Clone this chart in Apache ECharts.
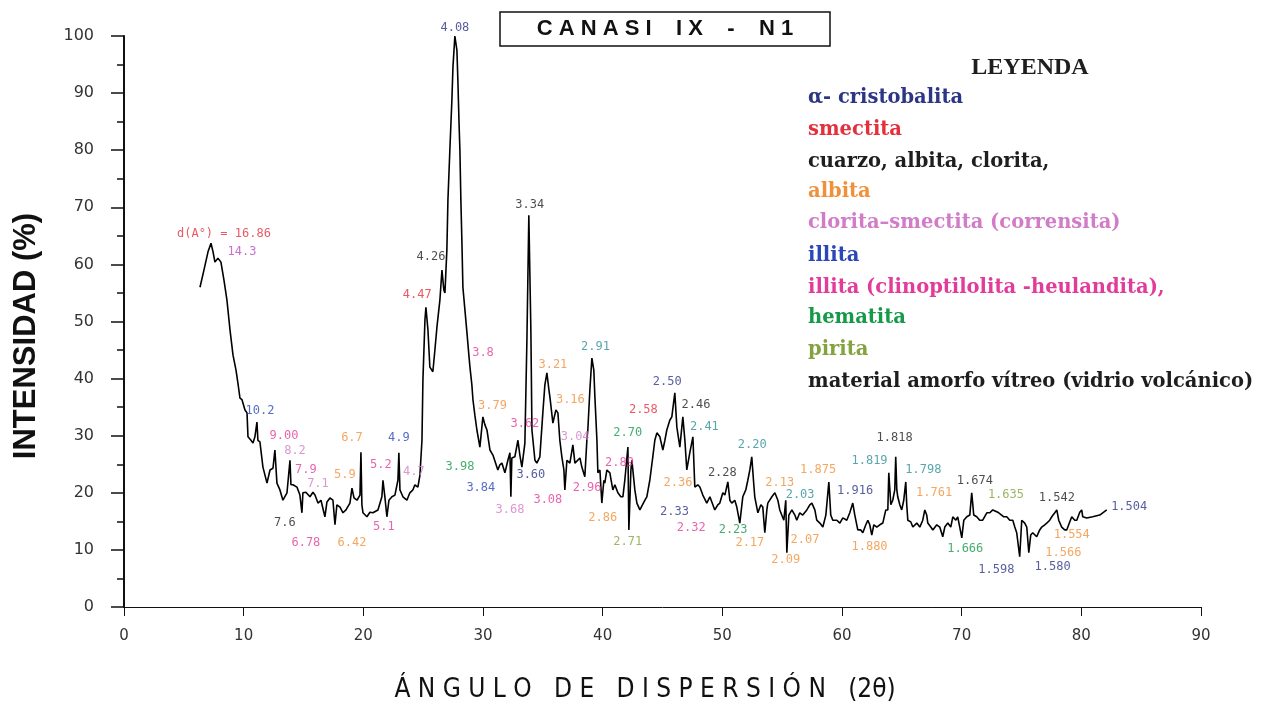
<!DOCTYPE html>
<html><head><meta charset="utf-8">
<script src="https://cdn.jsdelivr.net/npm/echarts@6/dist/echarts.min.js"></script>
<style>html,body{margin:0;padding:0;background:#fff}#c{width:1273px;height:708px}</style>
</head><body><div id="c"></div>
<script>
// ---- DATA ----
const chartTitle = 'C A N A S I\u00a0\u00a0\u00a0 I X\u00a0\u00a0\u00a0 -\u00a0\u00a0\u00a0 N 1';
const xAxisName = 'Á N G U L O   D E   D I S P E R S I Ó N   (2θ)';
const yAxisName = 'INTENSIDAD (%)';
const xTicks = [0, 10, 20, 30, 40, 50, 60, 70, 80, 90];
const yTicks = [0, 10, 20, 30, 40, 50, 60, 70, 80, 90, 100];

// diffractogram trace: [2θ, intensity %]
const trace = [
[6.35,56.0],[6.68,59.0],[7.02,62.2],[7.27,63.7],[7.44,62.2],[7.60,60.4],[7.85,61.1],[8.10,60.4],[8.35,57.3],[8.60,53.8],
[8.86,48.5],[9.11,44.1],[9.36,41.5],[9.52,39.2],[9.69,36.6],[9.86,36.3],[10.11,34.5],[10.28,34.0],[10.36,29.8],[10.61,29.2],
[10.78,28.7],[10.94,29.8],[11.11,32.4],[11.19,29.2],[11.36,28.9],[11.61,24.5],[11.78,23.1],[11.95,21.7],[12.20,24.0],[12.45,24.3],
[12.61,27.5],[12.78,21.7],[13.03,20.5],[13.28,18.7],[13.62,20.0],[13.87,25.7],[13.95,21.4],[14.12,21.4],[14.45,21.0],[14.70,19.6],
[14.87,16.5],[14.95,20.0],[15.20,20.1],[15.54,19.3],[15.79,20.1],[15.96,19.6],[16.21,18.2],[16.46,18.7],[16.79,15.8],[16.96,18.4],
[17.21,19.1],[17.46,18.7],[17.63,14.4],[17.79,17.9],[18.05,17.5],[18.30,16.5],[18.55,17.0],[18.88,18.2],[19.05,20.8],[19.22,19.1],
[19.47,18.7],[19.72,19.6],[19.80,27.1],[19.88,17.9],[19.97,16.5],[20.30,15.8],[20.55,16.6],[20.80,16.5],[21.22,17.0],[21.55,19.3],
[21.64,22.2],[21.80,19.3],[21.97,15.8],[22.14,18.7],[22.39,19.3],[22.64,19.6],[22.89,22.2],[22.97,27.0],[23.06,20.5],[23.31,19.3],
[23.64,18.7],[23.89,20.0],[24.14,20.5],[24.31,21.4],[24.56,21.0],[24.73,23.1],[24.90,29.2],[24.98,39.8],[25.15,50.3],[25.23,52.5],
[25.40,48.5],[25.56,42.0],[25.81,41.2],[25.98,45.0],[26.15,49.0],[26.40,53.8],[26.57,59.0],[26.73,55.5],[26.82,55.0],[26.98,62.5],
[27.07,71.3],[27.23,80.0],[27.40,88.8],[27.49,94.6],[27.65,100.0],[27.82,97.5],[27.90,92.3],[27.99,85.3],[28.07,80.0],[28.15,71.3],
[28.24,63.7],[28.32,56.0],[28.49,52.0],[28.66,48.0],[28.82,44.1],[28.91,42.0],[29.07,38.9],[29.16,36.3],[29.32,33.6],[29.49,31.0],
[29.74,28.0],[29.99,33.3],[30.16,31.9],[30.33,31.0],[30.58,27.5],[30.83,26.6],[30.99,26.3],[31.24,24.0],[31.41,24.9],[31.58,25.2],
[31.83,23.5],[32.08,25.7],[32.25,27.0],[32.33,19.3],[32.41,26.1],[32.66,26.3],[32.92,29.2],[33.08,26.6],[33.25,24.5],[33.50,28.7],
[33.67,46.8],[33.83,68.6],[34.00,48.5],[34.09,31.0],[34.34,25.7],[34.50,25.2],[34.75,26.3],[35.00,34.0],[35.17,38.9],[35.34,41.0],
[35.51,38.0],[35.59,36.8],[35.84,32.2],[36.09,34.5],[36.26,34.0],[36.42,29.2],[36.59,26.3],[36.76,24.0],[36.84,20.5],[37.01,25.7],
[37.26,25.2],[37.51,28.4],[37.68,25.2],[37.84,25.2],[38.10,26.1],[38.26,24.5],[38.51,22.8],[38.68,29.2],[38.76,31.0],[38.93,38.0],
[39.10,43.6],[39.26,41.5],[39.35,36.8],[39.52,29.2],[39.60,23.5],[39.77,24.0],[39.93,18.2],[40.10,22.2],[40.18,21.7],[40.35,24.0],
[40.60,23.5],[40.85,20.5],[41.02,21.4],[41.27,20.0],[41.52,19.3],[41.69,19.3],[41.85,22.2],[42.11,28.0],[42.19,13.5],[42.36,24.0],
[42.44,25.7],[42.69,20.5],[42.86,18.2],[43.11,17.0],[43.27,17.0],[43.53,18.7],[43.69,19.3],[43.94,22.2],[44.19,26.3],[44.36,29.2],
[44.53,30.5],[44.78,29.8],[45.03,27.5],[45.20,29.2],[45.36,31.0],[45.61,32.7],[45.78,33.3],[46.03,37.5],[46.20,31.5],[46.45,28.0],
[46.70,33.3],[46.87,29.2],[47.03,24.0],[47.28,27.0],[47.54,29.8],[47.70,21.0],[47.95,21.4],[48.12,21.0],[48.37,19.6],[48.70,18.2],
[48.96,19.3],[49.12,19.3],[49.37,17.0],[49.62,17.9],[49.79,18.2],[50.04,20.0],[50.21,19.6],[50.46,21.9],[50.63,18.7],[50.79,18.2],
[51.04,18.7],[51.21,17.5],[51.46,14.7],[51.71,19.3],[51.96,20.5],[52.13,22.2],[52.30,24.0],[52.46,26.3],[52.63,21.4],[52.71,19.3],
[52.97,16.5],[53.22,17.9],[53.38,17.5],[53.55,13.0],[53.72,17.0],[53.80,18.2],[54.14,19.3],[54.39,20.0],[54.64,18.7],[54.80,17.0],
[55.14,15.2],[55.30,18.7],[55.39,9.5],[55.56,16.1],[55.81,17.0],[56.06,16.1],[56.22,15.2],[56.47,16.5],[56.72,16.1],[57.06,17.0],
[57.31,17.9],[57.48,18.2],[57.73,17.0],[57.89,15.2],[58.15,14.7],[58.40,14.0],[58.65,16.1],[58.90,21.9],[59.06,16.1],[59.23,15.2],
[59.57,15.2],[59.82,14.7],[60.07,15.6],[60.40,15.2],[60.65,16.5],[60.90,18.2],[61.07,16.1],[61.32,13.5],[61.57,13.5],[61.74,13.0],
[61.99,14.4],[62.16,15.2],[62.32,14.4],[62.49,12.6],[62.66,14.4],[62.91,14.0],[63.16,14.4],[63.41,14.7],[63.66,17.0],[63.83,17.0],
[63.91,23.5],[64.08,17.9],[64.24,18.7],[64.41,20.5],[64.49,26.3],[64.58,20.5],[64.66,19.3],[64.83,17.9],[64.99,17.0],[65.16,18.7],
[65.33,21.9],[65.41,17.9],[65.50,15.2],[65.75,14.9],[65.92,14.0],[66.25,14.7],[66.50,14.0],[66.75,15.2],[66.92,17.0],[67.08,16.1],
[67.17,14.7],[67.42,14.0],[67.59,13.5],[67.92,14.4],[68.17,14.0],[68.42,12.3],[68.59,14.0],[68.84,14.7],[69.09,14.0],[69.26,15.8],
[69.51,15.2],[69.67,15.8],[69.84,14.0],[70.01,12.1],[70.18,15.2],[70.43,15.8],[70.68,16.1],[70.84,20.0],[71.01,16.1],[71.26,15.8],
[71.51,15.2],[71.76,15.2],[72.10,16.5],[72.35,16.5],[72.60,17.0],[72.76,17.3],[73.02,16.6],[73.18,16.5],[73.52,15.8],[73.77,15.8],
[74.02,15.2],[74.27,15.2],[74.44,14.0],[74.60,13.0],[74.85,8.8],[75.02,15.2],[75.27,14.7],[75.44,14.0],[75.61,9.5],[75.77,12.6],
[75.94,13.0],[76.27,12.3],[76.52,13.5],[76.69,14.0],[76.94,14.4],[77.11,14.7],[77.36,15.2],[77.53,15.8],[77.78,16.5],[77.95,17.0],
[78.11,15.2],[78.36,14.0],[78.61,13.5],[78.78,13.5],[79.03,14.9],[79.20,15.8],[79.45,15.2],[79.62,15.2],[79.87,16.6],[80.03,17.0],
[80.12,15.8],[80.45,15.6],[80.95,15.8],[81.54,16.1],[81.79,16.5],[82.12,17.0]
];

// peak annotations: [d-spacing text, 2θ, intensity, mineral]
const peaks = [
['d(A°) = 16.86',8.35,65.3,'sme'],['14.3',9.86,62.2,'vi'],['10.2',11.36,34.3,'ill'],['9.00',13.37,29.9,'hl'],
['8.2',14.29,27.3,'cs'],['7.9',15.20,24.0,'hl'],['7.1',16.21,21.5,'cs'],['7.6',13.45,14.7,'cua'],
['6.78',15.2,11.2,'hl'],['6.42',19.05,11.2,'alb'],['5.9',18.46,23.1,'alb'],['6.7',19.05,29.6,'alb'],
['4.9',22.97,29.6,'ill'],['5.2',21.47,24.9,'hl'],['4.7',24.23,23.6,'cs'],['5.1',21.72,14.0,'hl'],
['4.47',24.5,54.6,'sme'],['4.26',25.65,61.3,'cua'],['4.08',27.65,101.5,'cri'],['3.34',33.9,70.4,'cua'],
['3.8',30.0,44.5,'hl'],['3.79',30.8,35.2,'alb'],['3.62',33.5,32.0,'hl'],['3.21',35.84,42.4,'alb'],
['3.16',37.3,36.3,'alb'],['3.04',37.7,29.8,'cs'],['3.98',28.07,24.5,'hem'],['3.84',29.82,20.8,'ill'],
['3.68',32.25,17.0,'cs'],['3.60',34.0,23.1,'cri'],['3.08',35.42,18.7,'hl'],['2.91',39.4,45.5,'tea'],
['2.96',38.7,20.8,'hl'],['2.89',41.4,25.2,'hl'],['2.70',42.1,30.5,'hem'],['2.86',40.0,15.6,'alb'],
['2.71',42.1,11.4,'pir'],['2.58',43.4,34.5,'sme'],['2.50',45.4,39.4,'cri'],['2.46',47.8,35.4,'cua'],
['2.41',48.5,31.5,'tea'],['2.36',46.3,21.7,'alb'],['2.33',46.0,16.6,'cri'],['2.32',47.4,13.8,'hl'],
['2.28',50.0,23.5,'cua'],['2.23',50.9,13.5,'hem'],['2.20',52.5,28.4,'tea'],['2.13',54.8,21.7,'alb'],
['2.17',52.3,11.2,'alb'],['2.03',56.5,19.6,'tea'],['2.07',56.9,11.7,'alb'],['2.09',55.3,8.2,'alb'],
['1.875',58.0,24.0,'alb'],['1.819',62.3,25.6,'tea'],['1.818',64.4,29.6,'cua'],['1.798',66.8,24.0,'tea'],
['1.916',61.1,20.3,'cri'],['1.761',67.7,20.0,'alb'],['1.880',62.3,10.5,'alb'],['1.674',71.1,22.1,'cua'],
['1.635',73.7,19.6,'pir'],['1.666',70.3,10.2,'hem'],['1.598',72.9,6.5,'cri'],['1.580',77.6,7.0,'cri'],
['1.542',77.95,19.1,'cua'],['1.554',79.2,12.6,'alb'],['1.566',78.5,9.5,'alb'],['1.504',84.0,17.5,'cri']
];

const legendTitle = 'LEYENDA';
const legendItems = [
['α- cristobalita','cri'],['smectita','sme'],['cuarzo, albita, clorita,','cua'],['albita','alb'],
['clorita–smectita (corrensita)','cs'],['illita','ill'],['illita (clinoptilolita -heulandita),','hl'],
['hematita','hem'],['pirita','pir'],['material amorfo vítreo (vidrio volcánico)','cua']
];

// ---- STYLE ----
const mineralColor = {
  cri:'#2d3585', sme:'#e3303c', cua:'#1e1e1e', alb:'#f0913a', cs:'#d27cc8', ill:'#2a46b8',
  hl:'#e23c9a', hem:'#17994a', pir:'#84a23e', tea:'#2f8e98', vi:'#b94cc0'
};
const legendY = [98,130,162,192,223,256,288,318,350,382];

const chart = echarts.init(document.getElementById('c'), null, {renderer:'canvas'});
const graphics = [
  {type:'rect', shape:{x:500,y:12,width:330,height:34}, style:{fill:'#fff', stroke:'#111', lineWidth:1.5}, z:10},
  {type:'text', x:665, y:29, z:11, style:{text:chartTitle, font:'bold 22px "Liberation Sans"', fill:'#111', textAlign:'center', textVerticalAlign:'middle'}},
  {type:'text', x:1030, y:68, style:{text:legendTitle, font:'bold 24px "Liberation Serif"', fill:'#1e1e1e', textAlign:'center', textVerticalAlign:'middle'}},
  {type:'text', x:645, y:690, style:{text:xAxisName, font:'26px "DejaVu Sans Condensed"', fill:'#111', textAlign:'center', textVerticalAlign:'middle'}},
  {type:'text', x:26, y:336, rotation:Math.PI/2, style:{text:yAxisName, font:'bold 31px "Liberation Sans"', fill:'#111', textAlign:'center', textVerticalAlign:'middle'}}
];
legendItems.forEach((it, i) => {
  graphics.push({type:'text', x:808, y:legendY[i], style:{text:it[0], font:'bold 19.5px "DejaVu Serif"', fill:mineralColor[it[1]], textAlign:'left', textVerticalAlign:'middle'}});
});

chart.setOption({
  animation:false,
  backgroundColor:'#fff',
  grid:{left:124, right:72, top:36, bottom:101, containLabel:false},
  xAxis:{type:'value', min:xTicks[0], max:xTicks[xTicks.length-1], interval:10,
    axisLine:{show:true, onZero:false, lineStyle:{color:'#111', width:1}},
    axisTick:{show:true, length:9, lineStyle:{color:'#111', width:1}},
    axisLabel:{color:'#333', fontSize:15, margin:22, fontFamily:'DejaVu Sans'},
    splitLine:{show:false}},
  yAxis:{type:'value', min:yTicks[0], max:yTicks[yTicks.length-1], interval:10,
    axisLine:{show:true, lineStyle:{color:'#111', width:2}},
    axisTick:{show:true, length:13, lineStyle:{color:'#111', width:1.5}},
    minorTick:{show:true, splitNumber:2, length:7, lineStyle:{color:'#111', width:1.5}},
    axisLabel:{color:'#333', fontSize:16, margin:30, fontFamily:'DejaVu Sans'},
    splitLine:{show:false}},
  graphic:graphics,
  series:[
    {type:'line', data:trace, showSymbol:false, symbol:'none', smooth:false,
     lineStyle:{color:'#000', width:1.6}, z:3},
    {type:'scatter', clip:false, symbolSize:1, itemStyle:{color:'rgba(0,0,0,0)'}, z:5,
     data:peaks.map(p => ({name:p[0], value:[p[1], p[2]], label:{color:mineralColor[p[3]]}})),
     label:{show:true, position:'inside', formatter:'{b}', fontSize:12, fontFamily:'DejaVu Sans Mono'}}
  ]
});
</script></body></html>
